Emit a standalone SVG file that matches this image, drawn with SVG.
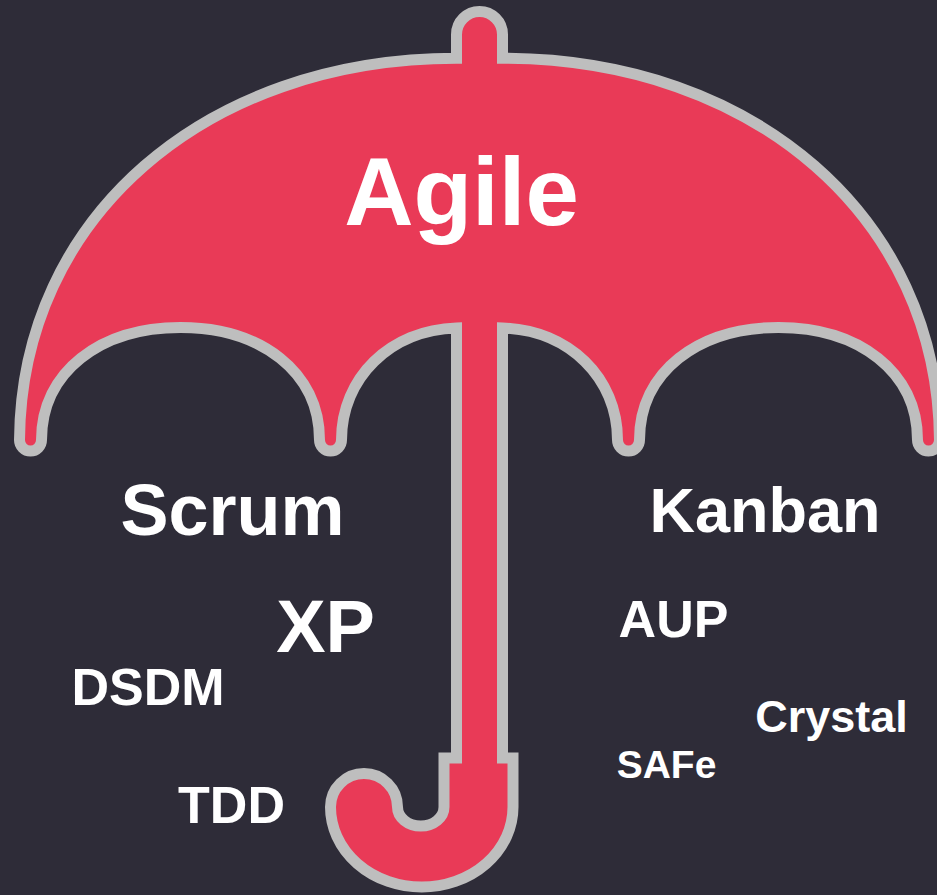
<svg xmlns="http://www.w3.org/2000/svg" width="937" height="895" viewBox="0 0 937 895">
  <style>
    .bg { fill: #2e2c38; }
    .umbrella { fill: #e93a57; stroke: #bebebe; stroke-width: 11; stroke-linejoin: miter; }
    .lbl { fill: #ffffff; font-family: "Liberation Sans", Arial, Helvetica, sans-serif; font-weight: bold; text-anchor: middle; }
  </style>
  <rect class="bg" x="0" y="0" width="937" height="895"/>
  <g id="umbrella">
    <path class="umbrella" d="M 19.5 440
      C 21 218, 205 58.3, 456.5 58.3
      L 456.5 34.5
      A 23 23 0 0 1 502.5 34.5
      L 502.5 58.3
      C 754 58.3, 938 218, 939.5 440
      A 11 11 0 0 1 917.5 440
      C 917.5 372, 859 327.5, 778.5 327.5
      C 698 327.5, 639.5 372, 639.5 440
      A 11 11 0 0 1 617.5 440
      C 617.5 378, 569 330, 502.5 328
      L 502.5 758
      L 513 758
      L 513 807
      A 91.25 80 0 0 1 330.5 807
      A 33.5 33.5 0 0 1 397.5 807
      A 23.25 19 0 0 0 444 807
      L 444 758
      L 456.5 758
      L 456.5 328
      C 390 330, 341.5 378, 341.5 440
      A 11 11 0 0 1 319.5 440
      C 319.5 372, 261 327.5, 180.5 327.5
      C 100 327.5, 41.5 372, 41.5 440
      A 11 11 0 0 1 19.5 440 Z"/>
  </g>
  <g id="connectors"></g>
  <g id="node-agile"><text class="lbl" x="461.5" y="225" font-size="96">Agile</text></g>
  <g id="node-scrum"><text class="lbl" x="232.5" y="535" font-size="72">Scrum</text></g>
  <g id="node-kanban"><text class="lbl" x="765" y="532" font-size="63">Kanban</text></g>
  <g id="node-xp"><text class="lbl" x="325.5" y="652" font-size="74">XP</text></g>
  <g id="node-aup"><text class="lbl" x="673.5" y="637" font-size="52">AUP</text></g>
  <g id="node-dsdm"><text class="lbl" x="148" y="705" font-size="52">DSDM</text></g>
  <g id="node-crystal"><text class="lbl" x="831.5" y="732" font-size="45">Crystal</text></g>
  <g id="node-safe"><text class="lbl" x="666.5" y="778" font-size="39">SAFe</text></g>
  <g id="node-tdd"><text class="lbl" x="231.5" y="823" font-size="52">TDD</text></g>
</svg>
